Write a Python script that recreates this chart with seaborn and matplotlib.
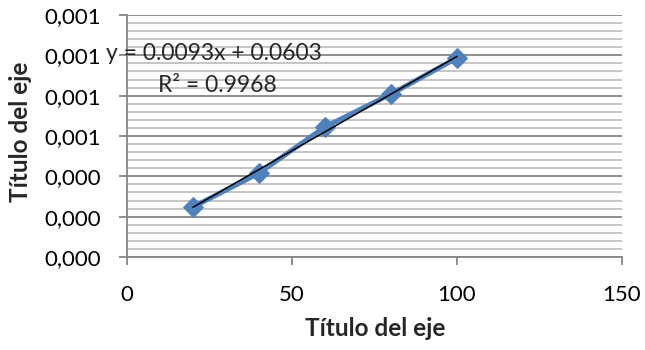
import matplotlib
matplotlib.use("Agg")
import matplotlib.pyplot as plt
import seaborn as sns
import numpy as np
import pandas as pd
from matplotlib.ticker import FuncFormatter, MultipleLocator

x_vals = [20, 40, 60, 80, 100]
y_vals = [0.000248, 0.000416, 0.000645, 0.000808, 0.000987]
x_ticks = [0, 50, 100, 150]
y_ticks = [0, 0.0002, 0.0004, 0.0006, 0.0008, 0.0010, 0.0012]
x_title = "Título del eje"
y_title = "Título del eje"
eq_text = "y = 0.0093x + 0.0603"
r2_text = "R² = 0.9968"

df = pd.DataFrame({"x": x_vals, "y": y_vals})

sns.set_style("white")
plt.rcParams["font.family"] = ["Lato", "DejaVu Sans"]

fig = plt.figure(figsize=(6.45, 3.5), dpi=100)
ax = fig.add_axes([127 / 645, 1 - 257 / 350, (622 - 127) / 645, (257 - 15) / 350])

sns.lineplot(data=df, x="x", y="y", ax=ax, color="#4F81BD", linewidth=3.6,
             marker="D", markersize=10.5, markeredgecolor="#4F81BD", zorder=3)
sns.regplot(data=df, x="x", y="y", ax=ax, scatter=False, ci=None,
            line_kws={"color": "black", "linewidth": 1.1, "zorder": 4})

ax.set_xlim(0, 150)
ax.set_ylim(0, 0.0012)
ax.set_xticks(x_ticks)
ax.set_yticks(y_ticks)
ax.yaxis.set_minor_locator(MultipleLocator(0.00004))
ax.yaxis.set_major_formatter(FuncFormatter(lambda v, p: f"{v:.3f}".replace(".", ",")))

ax.grid(axis="y", which="major", color="#868686", linewidth=1.3, zorder=0)
ax.grid(axis="y", which="minor", color="#C0C0C0", linewidth=1.3, zorder=0)
ax.grid(axis="x", visible=False)
ax.set_axisbelow(True)

for s in ["top", "right"]:
    ax.spines[s].set_visible(False)
for s in ["left", "bottom"]:
    ax.spines[s].set_color("#868686")
    ax.spines[s].set_linewidth(1.3)

ax.tick_params(axis="both", which="major", length=5.5, width=1.3, color="#868686",
               labelsize=16, labelcolor="black", direction="out")
ax.tick_params(axis="x", which="major", bottom=True, pad=15)
ax.tick_params(axis="y", which="major", left=True, pad=13)
ax.tick_params(axis="y", which="minor", left=False)

ax.set_xlabel(x_title, fontsize=17.5, fontweight="bold", va="center")
ax.set_ylabel(y_title, fontsize=17.5, fontweight="bold", va="center")
ax.xaxis.set_label_coords((375 - 127) / 495, (257 - 328) / 242)
ax.yaxis.set_label_coords((20 - 127) / 495, (257 - 132) / 242)

fig.text(106 / 645, 1 - 53 / 350, eq_text, fontsize=16.5, ha="left", va="center")
fig.text(217 / 645, 1 - 85 / 350, r2_text, fontsize=16.5, ha="center", va="center")

fig.savefig("out.png", dpi=100)
